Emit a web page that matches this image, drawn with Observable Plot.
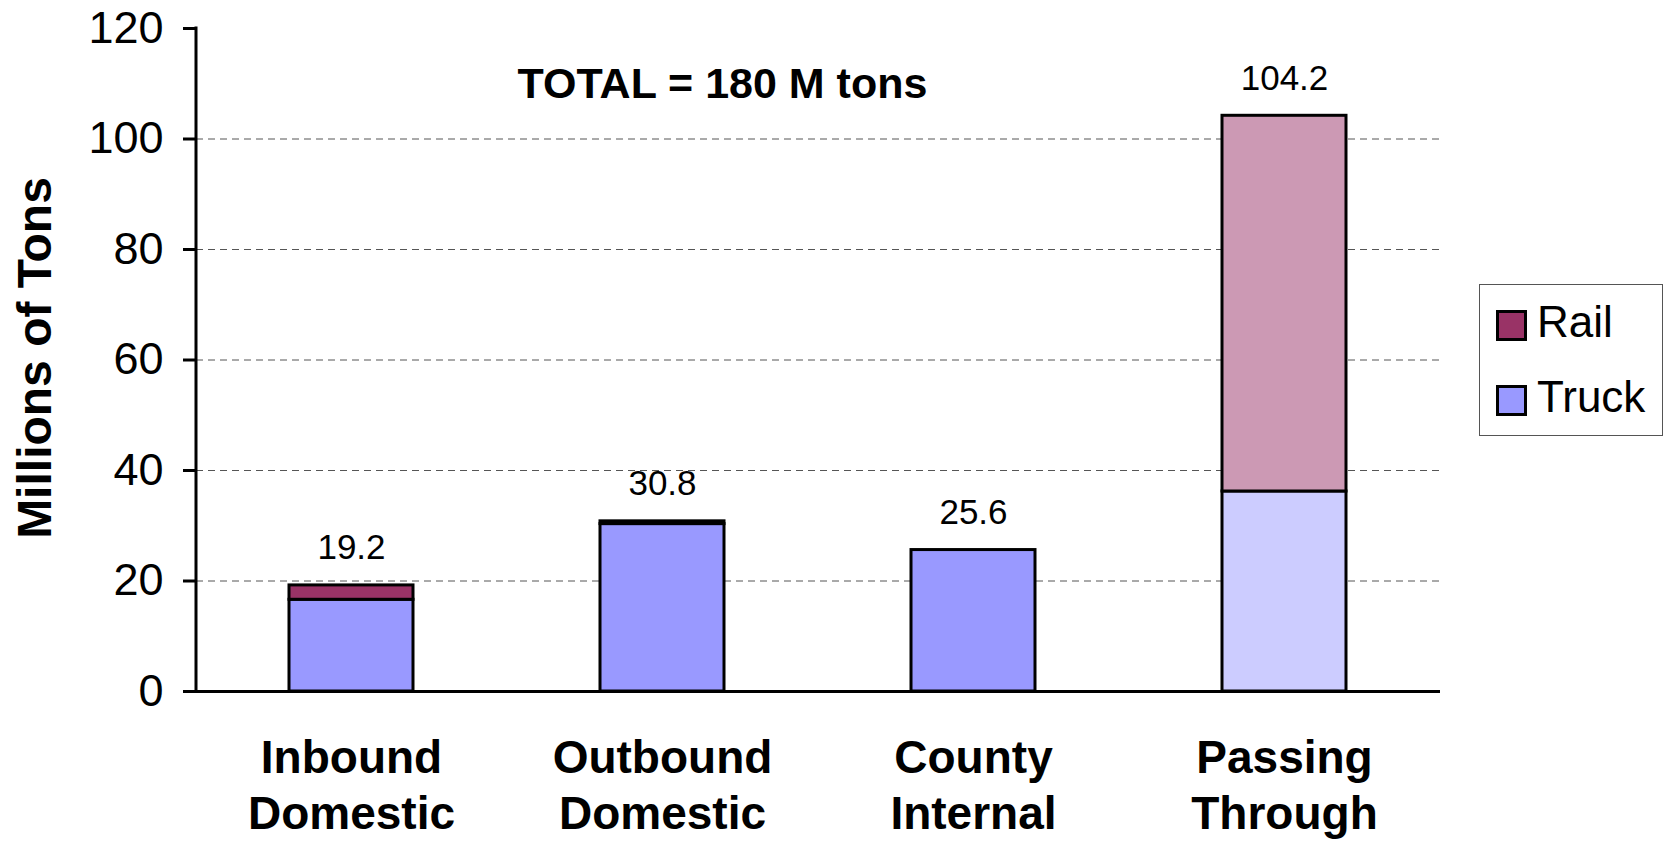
<!DOCTYPE html>
<html>
<head>
<meta charset="utf-8">
<script src="https://cdn.jsdelivr.net/npm/d3@7"></script>
<script src="https://cdn.jsdelivr.net/npm/@observablehq/plot@0.6"></script>
<style>
  html, body { margin: 0; padding: 0; background: #fff; }
  body { width: 1672px; height: 842px; overflow: hidden; }
  #wrap { position: relative; width: 1672px; height: 842px; font-family: "Liberation Sans", Arial, sans-serif; }
  #legend { position: absolute; left: 1479px; top: 284px; width: 184px; height: 152px; border: 1px solid #555; box-sizing: border-box; background: #fff; }
  .item { position: absolute; left: 16px; display: flex; align-items: center; font-size: 44px; line-height: 1; color: #000; }
  .sw { width: 31px; height: 31px; box-sizing: border-box; border: 3px solid #000; margin-right: 10px; margin-top: 6px; }
</style>
</head>
<body>
<div id="wrap"></div>
<script>
// ---- data ----
const categories = ["Inbound\nDomestic", "Outbound\nDomestic", "County\nInternal", "Passing\nThrough"];
const modes = ["Rail", "Truck"];
const truck = [16.6, 30.3, 25.6, 36.2];
const rail = [2.6, 0.5, 0, 68.0];
const totals = [19.2, 30.8, 25.6, 104.2];
const yTicks = [0, 20, 40, 60, 80, 100, 120];
const gridTicks = [20, 40, 60, 80, 100];
const title = "TOTAL = 180 M tons";
const yLabel = "Millions of Tons";
// colours
const modeColors = {Rail: "#993366", Truck: "#9999FF"};
const lightColors = {Rail: "#CC99B4", Truck: "#CCCCFF"};
const lightCategory = "Passing\nThrough";

// ---- table ----
const rows = [];
categories.forEach((c, i) => {
  rows.push({category: c, mode: "Truck", value: truck[i]});
  if (rail[i] > 0) rows.push({category: c, mode: "Rail", value: rail[i]});
});
const labels = categories.map((c, i) => ({category: c, total: totals[i]}));

const yAxisLine = (index, scales, values, dims) => {
  const ln = document.createElementNS("http://www.w3.org/2000/svg", "line");
  ln.setAttribute("x1", dims.marginLeft);
  ln.setAttribute("x2", dims.marginLeft);
  ln.setAttribute("y1", scales.y(yTicks[0]) + 1.5);
  ln.setAttribute("y2", scales.y(yTicks[yTicks.length - 1]) - 1.5);
  ln.setAttribute("stroke", "black");
  ln.setAttribute("stroke-width", 3);
  return ln;
};

const chart = Plot.plot({
  width: 1672,
  height: 842,
  marginLeft: 196,
  marginRight: 232,
  marginTop: 28,
  marginBottom: 151,
  style: {fontFamily: '"Liberation Sans", Arial, sans-serif', color: "#000", background: "#fff", overflow: "visible"},
  x: {domain: categories, paddingInner: 0.6, paddingOuter: 0.3, axis: null},
  y: {domain: [0, 120], axis: null},
  color: {type: "identity"},
  marks: [
    Plot.gridY(gridTicks, {stroke: "#555", strokeOpacity: 1, strokeWidth: 1, strokeDasharray: "7,5"}),
    Plot.barY(rows, {
      x: "category", y: "value",
      fill: d => (d.category === lightCategory ? lightColors : modeColors)[d.mode],
      stroke: "black", strokeWidth: 3
    }),
    Plot.ruleY([0], {stroke: "black", strokeWidth: 3}),
    yAxisLine,
    Plot.axisY({ticks: yTicks, tickSize: 13, tickPadding: 20, fontSize: 45, stroke: "black", strokeWidth: 3, label: null, tickFormat: d => String(d)}),
    Plot.text(labels, {x: "category", y: "total", text: d => d.total.toFixed(1), lineAnchor: "bottom", dy: -26, fontSize: 35, fill: "black"}),
    Plot.text(categories, {x: d => d, text: d => d, frameAnchor: "bottom", lineAnchor: "top", dy: 41, fontSize: 46, fontWeight: "bold", lineHeight: 1.23, fill: "black"}),
    Plot.text([title], {x: () => categories[1], y: () => 107.5, text: d => d, dx: 60, lineAnchor: "bottom", fontSize: 43, fontWeight: "bold", fill: "black"}),
    Plot.text([yLabel], {text: d => d, frameAnchor: "left", textAnchor: "middle", rotate: -90, dx: -161, dy: -2, fontSize: 48, fontWeight: "bold", fill: "black"})
  ]
});

const wrap = document.getElementById("wrap");
wrap.appendChild(chart);

// legend
const legend = document.createElement("div");
legend.id = "legend";
modes.forEach((m, i) => {
  const it = document.createElement("div");
  it.className = "item";
  it.style.top = (i === 0 ? 15 : 90) + "px";
  const sw = document.createElement("div");
  sw.className = "sw";
  sw.style.background = modeColors[m];
  const tx = document.createElement("span");
  tx.textContent = m;
  it.appendChild(sw);
  it.appendChild(tx);
  legend.appendChild(it);
});
wrap.appendChild(legend);
</script>
</body>
</html>
